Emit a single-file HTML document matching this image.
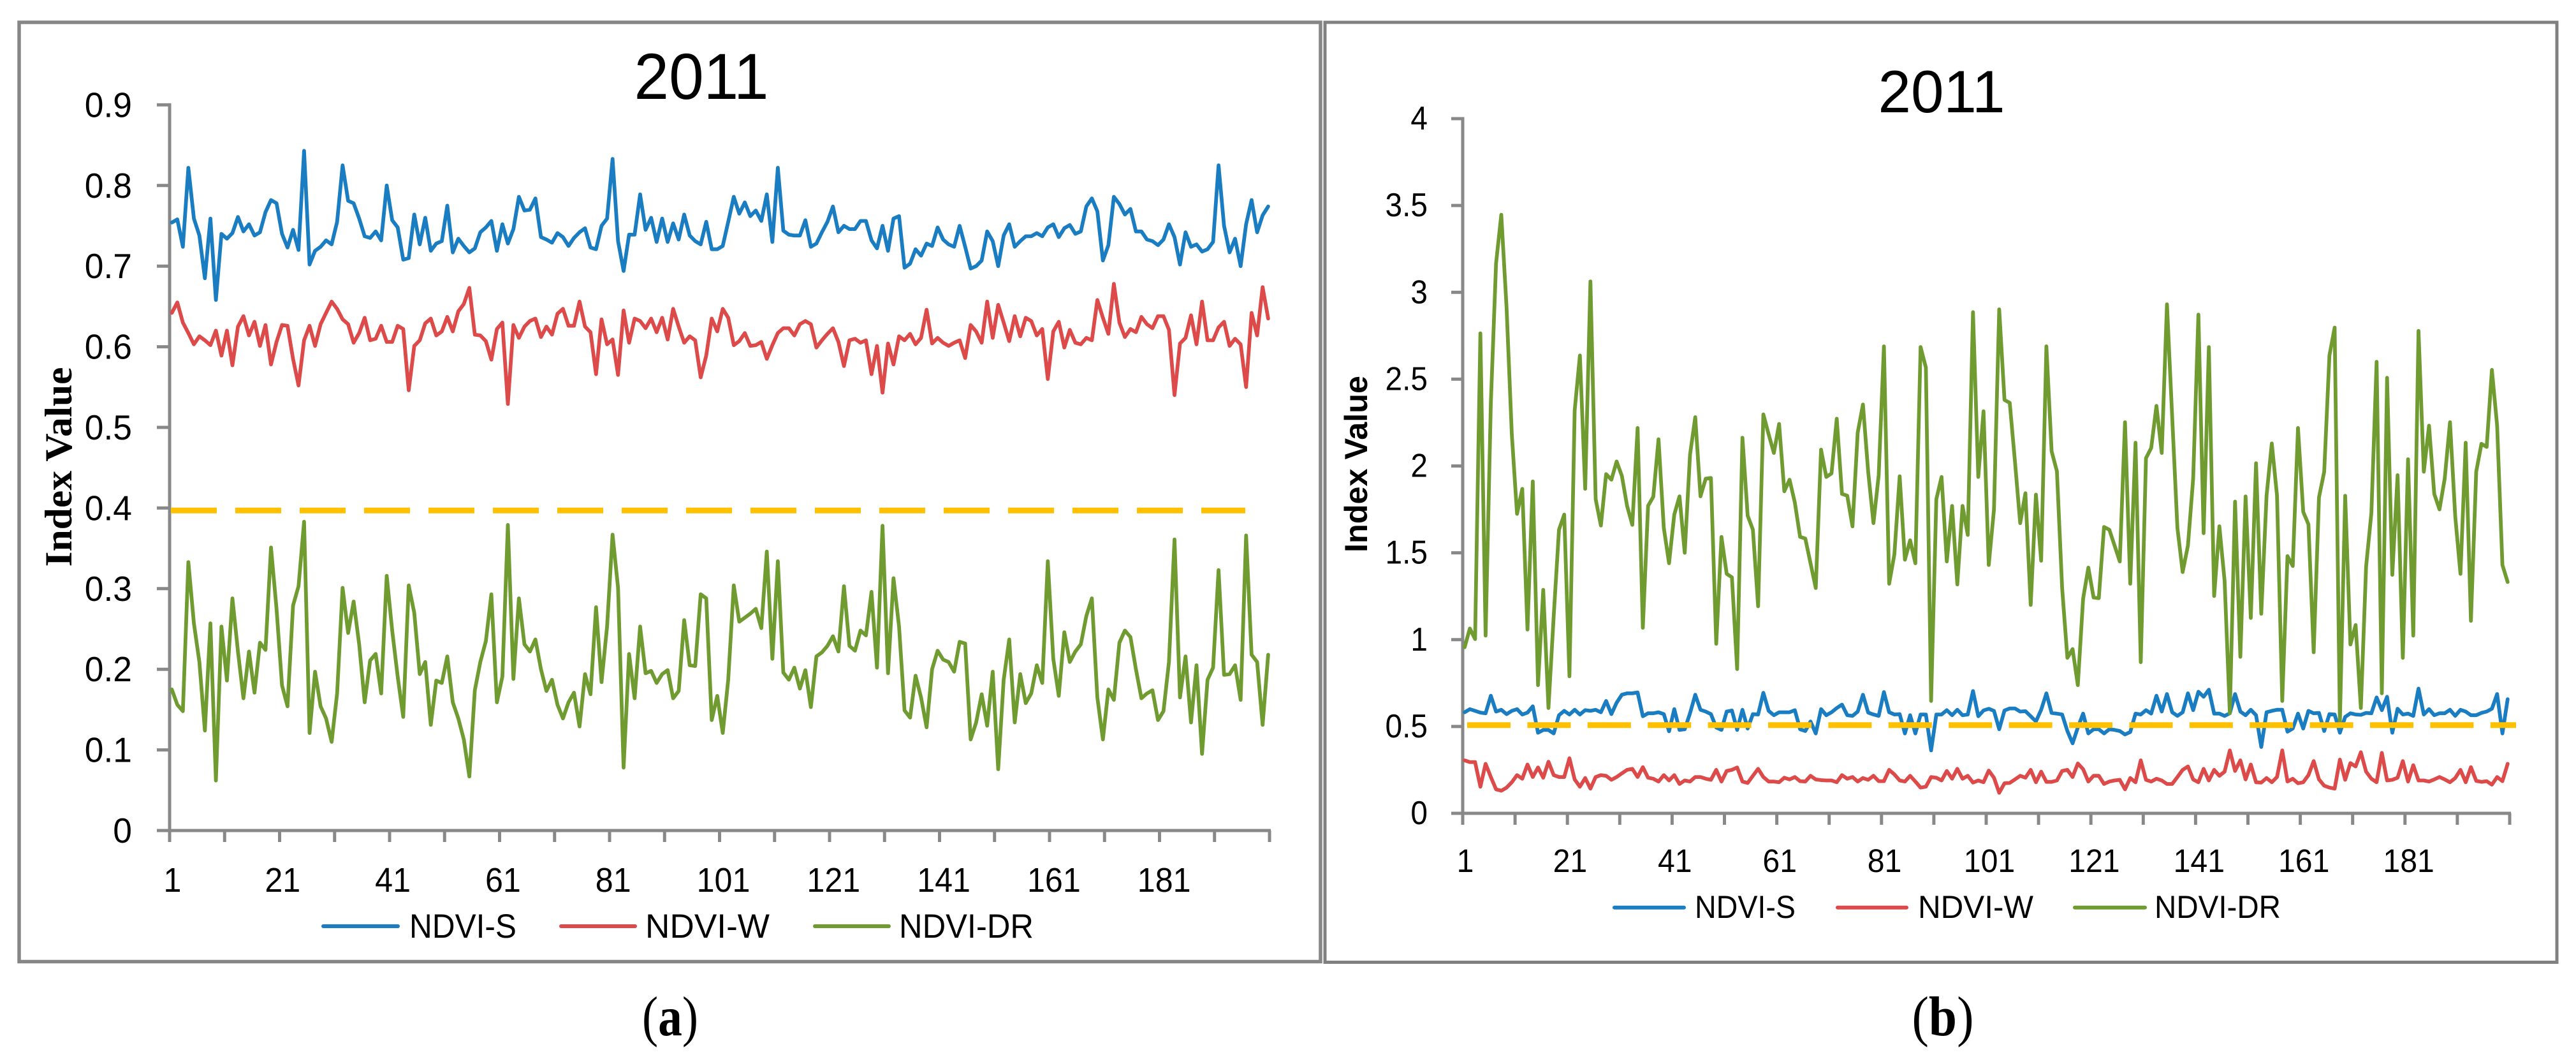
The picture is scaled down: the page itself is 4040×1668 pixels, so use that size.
<!DOCTYPE html>
<html lang="en">
<head>
<meta charset="utf-8">
<title>NDVI index values 2011</title>
<style>
html,body{margin:0;padding:0;background:#fff;width:4040px;height:1668px;overflow:hidden}
svg{display:block}
text{fill:#000;font-family:"Liberation Sans",sans-serif}
</style>
</head>
<body>
<svg id="figure" xmlns="http://www.w3.org/2000/svg" width="4040" height="1668" viewBox="0 0 4040 1668">
  <rect x="0" y="0" width="4040" height="1668" fill="#fff"/>
  <rect x="30" y="35" width="2041" height="1472.5" fill="#fff" stroke="#868686" stroke-width="5.5"/>
  <rect x="2078" y="35" width="1932" height="1473.5" fill="#fff" stroke="#808080" stroke-width="5"/>
  <g id="panelA"></g>
  <g id="panelB"></g>
  <text x="1051" y="1623" text-anchor="middle" font-size="88" textLength="88" lengthAdjust="spacingAndGlyphs" style="font-family:'Liberation Serif',serif">(<tspan font-weight="bold">a</tspan>)</text>
  <text x="3047" y="1623" text-anchor="middle" font-size="88" textLength="97" lengthAdjust="spacingAndGlyphs" style="font-family:'Liberation Serif',serif">(<tspan font-weight="bold">b</tspan>)</text>
</svg>
<script>
const xTickLabels = [1, 21, 41, 61, 81, 101, 121, 141, 161, 181];
const yTicksA = [0, 0.1, 0.2, 0.3, 0.4, 0.5, 0.6, 0.7, 0.8, 0.9];
const yTicksB = [0, 0.5, 1, 1.5, 2, 2.5, 3, 3.5, 4];
const seriesNames = ['NDVI-S', 'NDVI-W', 'NDVI-DR'];
const thresholdA = 0.397;
const thresholdB = 0.508;

const ndviSA = [
.754,.758,.724,.822,.759,.738,.685,.759,.658,.740,
.734,.741,.761,.743,.752,.738,.742,.767,.782,.778,
.740,.723,.745,.720,.843,.702,.719,.724,.732,.727,
.755,.825,.781,.778,.759,.737,.735,.743,.732,.800,
.757,.748,.708,.710,.764,.727,.760,.719,.728,.731,
.775,.717,.734,.725,.717,.722,.742,.748,.756,.719,
.752,.728,.746,.786,.769,.770,.784,.736,.733,.729,
.741,.736,.725,.735,.742,.747,.723,.721,.750,.759,
.833,.731,.694,.739,.739,.789,.745,.760,.730,.759,
.730,.753,.733,.764,.738,.731,.727,.755,.721,.721,
.725,.755,.786,.765,.779,.762,.769,.756,.789,.730,
.822,.744,.739,.738,.738,.757,.724,.728,.742,.755,
.774,.742,.750,.746,.746,.756,.756,.732,.722,.750,
.719,.759,.762,.698,.703,.721,.713,.728,.725,.748,
.733,.727,.724,.750,.724,.697,.700,.707,.743,.731,
.700,.738,.752,.724,.731,.737,.737,.741,.737,.748,
.752,.736,.747,.751,.740,.743,.774,.784,.768,.707,
.726,.786,.777,.764,.771,.743,.743,.733,.731,.726,
.733,.752,.736,.702,.742,.724,.727,.718,.721,.730,
.825,.750,.717,.734,.700,.752,.782,.742,.763,.774];

const ndviWA = [
.642,.655,.630,.617,.603,.613,.608,.602,.620,.589,
.620,.577,.625,.638,.614,.631,.601,.627,.578,.606,
.627,.626,.585,.552,.608,.626,.601,.628,.642,.656,
.647,.634,.628,.605,.617,.636,.608,.610,.626,.606,
.606,.626,.622,.546,.601,.608,.629,.635,.614,.619,
.637,.619,.644,.653,.673,.615,.614,.607,.584,.622,
.630,.529,.627,.611,.625,.632,.635,.612,.625,.615,
.641,.647,.626,.626,.656,.625,.618,.566,.634,.603,
.609,.565,.645,.605,.635,.632,.623,.635,.618,.636,
.609,.647,.625,.605,.613,.608,.562,.589,.635,.619,
.647,.636,.602,.607,.617,.601,.602,.606,.585,.602,
.617,.623,.623,.614,.628,.632,.628,.599,.608,.616,
.623,.606,.576,.608,.610,.605,.608,.566,.601,.543,
.604,.578,.613,.608,.616,.603,.611,.646,.604,.611,
.605,.601,.605,.608,.586,.627,.619,.605,.656,.611,
.652,.630,.607,.638,.613,.636,.632,.614,.622,.560,
.619,.631,.599,.621,.605,.603,.611,.608,.658,.636,
.616,.678,.630,.612,.622,.618,.637,.628,.623,.638,
.638,.621,.540,.604,.611,.639,.603,.656,.608,.608,
.624,.631,.601,.610,.603,.550,.642,.614,.674,.635];

const ndviDrA = [
.175,.156,.148,.333,.257,.209,.124,.257,.062,.253,
.186,.288,.222,.164,.222,.171,.233,.224,.351,.275,
.180,.154,.279,.303,.383,.121,.197,.154,.139,.110,
.170,.301,.245,.284,.231,.159,.211,.219,.170,.316,
.248,.191,.141,.304,.270,.194,.209,.131,.186,.183,
.216,.159,.139,.113,.067,.174,.209,.235,.293,.159,
.191,.379,.188,.288,.231,.222,.237,.200,.173,.187,
.156,.139,.159,.171,.129,.194,.169,.277,.184,.253,
.367,.301,.078,.219,.164,.253,.195,.198,.183,.194,
.199,.164,.173,.261,.205,.204,.293,.288,.137,.167,
.121,.187,.304,.259,.264,.269,.275,.251,.346,.213,
.334,.196,.187,.202,.176,.199,.153,.216,.221,.229,
.241,.222,.303,.229,.223,.248,.242,.296,.202,.378,
.195,.313,.253,.149,.140,.192,.165,.128,.200,.223,
.212,.209,.197,.234,.232,.113,.134,.169,.130,.197,
.076,.187,.237,.134,.194,.158,.170,.205,.183,.334,
.213,.167,.246,.209,.222,.231,.266,.288,.165,.113,
.175,.162,.233,.248,.240,.200,.164,.170,.174,.137,
.148,.209,.361,.165,.216,.134,.205,.095,.187,.202,
.323,.193,.194,.205,.162,.366,.218,.209,.131,.218];

const ndviSB = [
.582,.600,.590,.580,.576,.677,.586,.596,.571,.590,
.600,.569,.580,.616,.464,.480,.480,.460,.565,.590,
.569,.596,.569,.594,.590,.596,.582,.647,.571,.637,
.683,.691,.691,.696,.559,.576,.576,.582,.571,.472,
.600,.480,.484,.576,.683,.596,.586,.571,.494,.480,
.586,.592,.480,.596,.488,.571,.569,.694,.590,.565,
.582,.582,.582,.594,.484,.474,.529,.460,.600,.565,
.582,.606,.626,.565,.561,.586,.683,.580,.569,.561,
.698,.582,.569,.571,.460,.565,.460,.569,.569,.362,
.569,.569,.594,.565,.596,.565,.569,.704,.559,.592,
.602,.590,.484,.592,.604,.604,.586,.588,.559,.529,
.596,.691,.578,.574,.569,.474,.403,.494,.574,.460,
.484,.484,.460,.484,.480,.474,.454,.468,.574,.569,
.594,.574,.677,.586,.687,.582,.561,.582,.691,.594,
.700,.671,.712,.574,.574,.561,.576,.687,.586,.565,
.596,.565,.382,.582,.590,.596,.596,.470,.488,.574,
.488,.590,.576,.578,.474,.571,.569,.464,.555,.576,
.569,.567,.578,.576,.667,.594,.671,.464,.602,.569,
.574,.561,.718,.569,.600,.565,.576,.576,.596,.561,
.596,.586,.565,.565,.578,.586,.602,.687,.460,.657];

const ndviWB = [
.305,.295,.295,.153,.285,.209,.138,.130,.148,.179,
.220,.199,.281,.209,.264,.205,.297,.220,.209,.209,
.317,.195,.153,.203,.142,.209,.220,.216,.193,.209,
.230,.250,.256,.209,.266,.205,.199,.183,.220,.189,
.220,.169,.189,.183,.209,.209,.199,.193,.250,.183,
.244,.250,.264,.183,.175,.216,.256,.209,.183,.183,
.179,.205,.195,.209,.185,.183,.216,.195,.191,.189,
.189,.179,.220,.199,.209,.183,.203,.193,.216,.185,
.185,.250,.224,.189,.183,.216,.183,.148,.153,.209,
.205,.189,.244,.199,.256,.199,.216,.177,.189,.179,
.246,.205,.118,.173,.175,.195,.216,.205,.250,.179,
.240,.181,.181,.189,.244,.250,.209,.287,.254,.183,
.216,.216,.169,.183,.189,.193,.138,.203,.179,.305,
.193,.183,.199,.189,.169,.169,.209,.250,.270,.195,
.179,.256,.189,.250,.216,.240,.362,.244,.305,.195,
.281,.179,.177,.203,.179,.209,.362,.183,.199,.173,
.179,.220,.301,.195,.159,.148,.142,.309,.193,.289,
.270,.352,.240,.199,.179,.348,.189,.193,.205,.301,
.183,.277,.189,.189,.183,.195,.209,.195,.179,.203,
.250,.179,.266,.187,.181,.185,.165,.209,.185,.285];

const ndviDrB = [
.956,1.064,1.003,2.764,1.023,2.360,3.167,3.447,2.911,2.183,
1.724,1.868,1.058,1.911,.738,1.287,.606,1.135,1.633,1.720,
.789,2.320,2.636,1.868,3.063,1.809,1.657,1.953,1.921,2.026,
1.943,1.770,1.661,2.219,1.068,1.770,1.823,2.154,1.643,1.440,
1.720,1.825,1.500,2.065,2.281,1.825,1.927,1.931,.976,1.592,
1.379,1.359,.830,2.163,1.714,1.633,1.192,2.297,2.183,2.075,
2.242,1.854,1.921,1.789,1.592,1.582,1.440,1.297,2.094,1.937,
1.957,2.272,1.839,1.829,1.652,2.193,2.354,1.967,1.671,1.947,
2.689,1.322,1.491,1.941,1.460,1.572,1.440,2.685,2.567,.647,
1.809,1.937,1.450,1.770,1.318,1.770,1.603,2.886,1.937,2.315,
1.430,1.750,2.902,2.380,2.364,2.026,1.671,1.843,1.200,1.835,
1.454,2.689,2.085,1.970,1.297,.895,.946,.738,1.236,1.415,
1.243,1.239,1.649,1.633,1.542,1.450,2.252,1.322,2.134,.870,
2.045,2.104,2.346,2.075,2.931,2.281,1.643,1.389,1.542,1.927,
2.872,1.613,2.685,1.251,1.653,1.338,.576,1.795,.901,1.825,
1.125,2.016,1.149,1.829,2.130,1.829,.647,1.481,1.424,2.219,
1.736,1.664,.927,1.819,1.967,2.636,2.797,.525,1.829,.972,
1.084,.606,1.420,1.730,2.600,.691,2.508,1.373,1.947,.895,
2.039,1.023,2.778,1.967,2.232,1.839,1.750,1.927,2.252,1.710,
1.379,2.134,1.108,1.967,2.128,2.110,2.553,2.232,1.430,1.332];

const SVGNS = 'http://www.w3.org/2000/svg';
const colors = ['#1A7DC2', '#DD4A4A', '#6F9B30'];
const AXIS = '#888888';

function make(parent, tag, attrs, txt) {
  const el = document.createElementNS(SVGNS, tag);
  for (const k in attrs) el.setAttribute(k, attrs[k]);
  if (txt !== undefined) el.textContent = txt;
  parent.appendChild(el);
  return el;
}

function squeeze(el, factor) {
  el.setAttribute('textLength', (el.getComputedTextLength() * factor).toFixed(1));
  el.setAttribute('lengthAdjust', 'spacingAndGlyphs');
}

function drawChart(root, cfg, yTicks, seriesList, threshold) {
  const yScale = v => cfg.y0 - v * cfg.yPerUnit;
  const xScale = i => cfg.firstX + (i - 1) * cfg.stepX;
  const bandEdge = k => cfg.axisX + (cfg.axisEnd - cfg.axisX) * k / seriesList[0].length;

  const title = make(root, 'text', {x: cfg.titleX, y: cfg.titleY, 'font-size': cfg.titleSize, 'text-anchor': 'middle', textLength: cfg.titleLen, lengthAdjust: 'spacingAndGlyphs'}, '2011');
  
  

  const yAxis = make(root, 'line', {x1: cfg.axisX, x2: cfg.axisX, y1: yScale(yTicks[yTicks.length - 1]) - 2.5, y2: cfg.y0, stroke: AXIS, 'stroke-width': 5});
  
  

  const xAxis = make(root, 'line', {x1: cfg.tickLeft, x2: cfg.axisEnd + 2, y1: cfg.y0, y2: cfg.y0, stroke: AXIS, 'stroke-width': 5});
  
  

  yTicks.forEach(v => {
    const tick = make(root, 'line', {x1: cfg.tickLeft, x2: cfg.axisX, y1: yScale(v), y2: yScale(v), stroke: AXIS, 'stroke-width': 5});
    
    
    const label = make(root, 'text', {x: cfg.yLabelX, y: yScale(v) + cfg.yLabelDy, 'font-size': cfg.tickSize, 'text-anchor': 'end'}, String(v));
    
    
    squeeze(label, cfg.yLabelSqueeze);
  });

  for (let k = 0; k <= seriesList[0].length; k += 10) {
    const tick = make(root, 'line', {x1: bandEdge(k), x2: bandEdge(k), y1: cfg.y0, y2: cfg.y0 + 18, stroke: AXIS, 'stroke-width': 5});
    
    
  }

  xTickLabels.forEach(c => {
    const label = make(root, 'text', {x: xScale(c) + 1, y: cfg.xLabelY, 'font-size': cfg.xTickSize, 'text-anchor': 'middle'}, String(c));
    
    
    squeeze(label, cfg.xLabelSqueeze);
  });

  const axisTitle = make(root, 'text', {transform: 'translate(' + cfg.axisTitleX + ' ' + cfg.axisTitleY + ') rotate(-90)', 'font-size': cfg.axisTitleSize, 'font-weight': 'bold', 'text-anchor': 'middle', textLength: cfg.axisTitleLen, lengthAdjust: 'spacingAndGlyphs', style: 'font-family:' + cfg.axisTitleFont}, 'Index Value');
  
  

  seriesList.forEach((vals, s) => {
    const pts = vals.map((v, i) => xScale(i + 1).toFixed(1) + ',' + yScale(v).toFixed(1)).join(' ');
    const line = make(root, 'polyline', {points: pts, fill: 'none', stroke: colors[s], 'stroke-width': 5.8, 'stroke-linejoin': 'round', 'stroke-linecap': 'round'});
    
    
  });

  const dash = make(root, 'line', {x1: cfg.dashX1, x2: cfg.dashX2, y1: yScale(threshold), y2: yScale(threshold), stroke: '#FFC000', 'stroke-width': 9, 'stroke-dasharray': cfg.dashPattern});
  
  

  seriesNames.forEach((name, s) => {
    const leg = cfg.legend[s];
    const swatch = make(root, 'line', {x1: leg[0], x2: leg[1], y1: cfg.legendY, y2: cfg.legendY, stroke: colors[s], 'stroke-width': 6, 'stroke-linecap': 'round'});
    
    
    const label = make(root, 'text', {x: leg[2], y: cfg.legendBase, 'font-size': cfg.legendSize, textLength: leg[3], lengthAdjust: 'spacingAndGlyphs'}, name);
    
    
  });
}

drawChart(document.getElementById('panelA'), {
  y0: 1302, yPerUnit: 1264, firstX: 269.5, stepX: 8.64,
  axisX: 266, axisEnd: 1991, tickLeft: 246,
  titleX: 1100, titleY: 155, titleSize: 102, titleLen: 211,
  yLabelX: 207, yLabelDy: 19, tickSize: 55, yLabelSqueeze: 0.97,
  xLabelY: 1398, xTickSize: 54, xLabelSqueeze: 0.93,
  axisTitleX: 112, axisTitleY: 732, axisTitleSize: 60, axisTitleLen: 313, axisTitleFont: "'Liberation Serif',serif",
  dashX1: 268, dashX2: 1953, dashPattern: '72 29',
  legendY: 1452, legendBase: 1470, legendSize: 53,
  legend: [[507, 624, 642, 168], [880, 996, 1012, 195], [1278, 1394, 1410, 211]]
}, yTicksA, [ndviSA, ndviWA, ndviDrA], thresholdA);

drawChart(document.getElementById('panelB'), {
  y0: 1275, yPerUnit: 272.25, firstX: 2297, stepX: 8.22,
  axisX: 2294, axisEnd: 3936, tickLeft: 2276,
  titleX: 3045, titleY: 176, titleSize: 94, titleLen: 199,
  yLabelX: 2239, yLabelDy: 17, tickSize: 52, yLabelSqueeze: 0.92,
  xLabelY: 1367, xTickSize: 51, xLabelSqueeze: 0.945,
  axisTitleX: 2144, axisTitleY: 727.5, axisTitleSize: 50, axisTitleLen: 277, axisTitleFont: "'Liberation Sans',sans-serif",
  dashX1: 2301, dashX2: 3946, dashPattern: '68 26.4',
  legendY: 1422.7, legendBase: 1439, legendSize: 50,
  legend: [[2532, 2641, 2658, 158], [2882, 2990, 3008, 181], [3254, 3364, 3379, 198]]
}, yTicksB, [ndviSB, ndviWB, ndviDrB], thresholdB);
</script>
</body>
</html>
